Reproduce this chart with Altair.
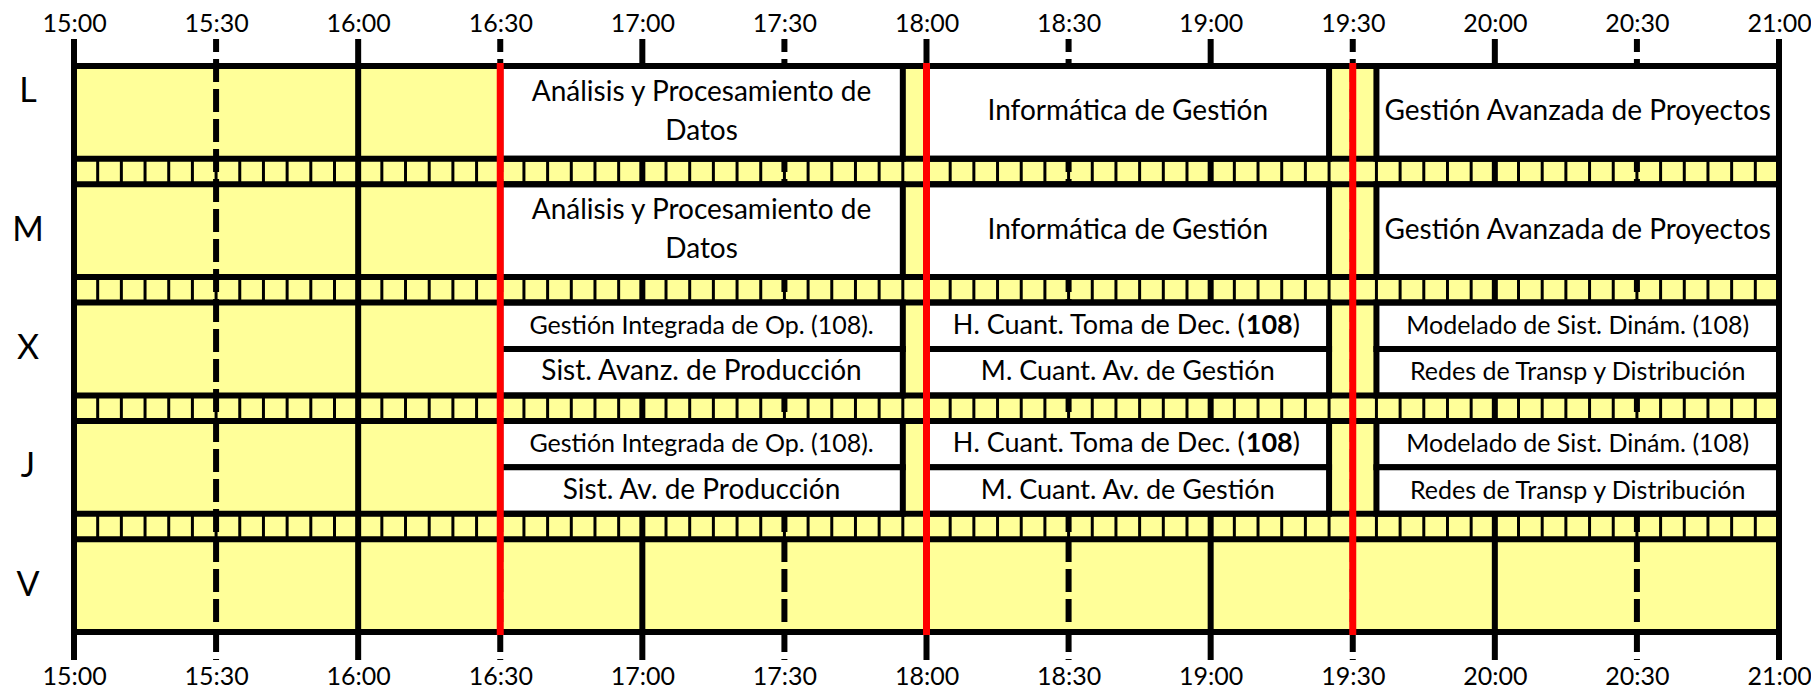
import altair as alt
import pandas as pd

# ---------------- data ----------------
days = ["L", "M", "X", "J", "V"]
tick_times = ["15:00", "15:30", "16:00", "16:30", "17:00", "17:30", "18:00",
              "18:30", "19:00", "19:30", "20:00", "20:30", "21:00"]
break_times = ["16:30", "18:00", "19:30"]

class_days = ["L", "L", "L", "M", "M", "M",
              "X", "X", "X", "X", "X", "X",
              "J", "J", "J", "J", "J", "J"]
class_slots = ["full", "full", "full", "full", "full", "full",
               "top", "bottom", "top", "bottom", "top", "bottom",
               "top", "bottom", "top", "bottom", "top", "bottom"]
class_starts = ["16:30", "18:00", "19:35", "16:30", "18:00", "19:35",
                "16:30", "16:30", "18:00", "18:00", "19:35", "19:35",
                "16:30", "16:30", "18:00", "18:00", "19:35", "19:35"]
class_ends = ["17:55", "19:25", "21:00", "17:55", "19:25", "21:00",
              "17:55", "17:55", "19:25", "19:25", "21:00", "21:00",
              "17:55", "17:55", "19:25", "19:25", "21:00", "21:00"]
class_names = ["Análisis y Procesamiento de\nDatos", "Informática de Gestión",
               "Gestión Avanzada de Proyectos",
               "Análisis y Procesamiento de\nDatos", "Informática de Gestión",
               "Gestión Avanzada de Proyectos",
               "Gestión Integrada de Op. (108).", "Sist. Avanz. de Producción",
               "H. Cuant. Toma de Dec. (108)", "M. Cuant. Av. de Gestión",
               "Modelado de Sist. Dinám. (108)", "Redes de Transp y Distribución",
               "Gestión Integrada de Op. (108).", "Sist. Av. de Producción",
               "H. Cuant. Toma de Dec. (108)", "M. Cuant. Av. de Gestión",
               "Modelado de Sist. Dinám. (108)", "Redes de Transp y Distribución"]
rich_name = "H. Cuant. Toma de Dec. (108)"
rich_parts = ["H. Cuant. Toma de Dec. (", "108", ")"]

# ---------------- styles / layout ----------------
FONT = "Lato"
YELLOW = "#ffff99"
RED = "#ff0000"
size_of = {
    "Análisis y Procesamiento de\nDatos": 28,
    "Informática de Gestión": 28,
    "Gestión Avanzada de Proyectos": 28,
    "Gestión Integrada de Op. (108).": 25,
    "Sist. Avanz. de Producción": 28,
    "Sist. Av. de Producción": 28,
    "H. Cuant. Toma de Dec. (108)": 27,
    "M. Cuant. Av. de Gestión": 27,
    "Modelado de Sist. Dinám. (108)": 25,
    "Redes de Transp y Distribución": 25,
}
LINE_H = 39.5

W, H = 1705, 621
T0 = 27.0      # top border (plot units = px from plot top)
D = 92.8       # day row height
B = 25.5       # film-strip band height
GRID_H = 5 * D + 4 * B


def mins(t):
    h, m = t.split(":")
    return (int(h) - 15) * 60 + int(m)


def row_top(i):
    return T0 + i * (D + B)


xs = alt.Scale(domain=[0, 360], nice=False, zero=False)
ys = alt.Scale(domain=[0, H], reverse=True, nice=False, zero=False)
label_expr = "floor(15 + datum.value / 60) + ':' + (datum.value % 60 == 0 ? '00' : '30')"
tick_vals = [mins(t) for t in tick_times]


def xaxis(orient, pad):
    return alt.Axis(values=tick_vals, orient=orient, domain=False, ticks=False,
                    tickSize=0, grid=False, labelFont=FONT, labelFontSize=25,
                    labelColor="black", labelPadding=pad, labelBaseline="alphabetic",
                    labelFlush=False, labelOverlap=False, labelAngle=0,
                    labelExpr=label_expr, title=None)


# background
bg = pd.DataFrame({"x": [0], "x2": [360], "y": [T0], "y2": [T0 + GRID_H]})
yellow = alt.Chart(bg).mark_rect(color=YELLOW).encode(
    x=alt.X("x:Q", scale=xs, axis=xaxis("top", 8)), x2="x2:Q",
    y=alt.Y("y:Q", scale=ys, axis=None), y2="y2:Q")

# film strips (5 minute cells)
strip_rows = []
for b in range(4):
    top = row_top(b) + D
    for m in range(5, 360, 5):
        strip_rows.append({"x": m, "y": top, "y2": top + B})
strips = alt.Chart(pd.DataFrame(strip_rows)).mark_rule(color="black", strokeWidth=3).encode(
    x=alt.X("x:Q", scale=xs, axis=None),
    y=alt.Y("y:Q", scale=ys, axis=None), y2="y2:Q")

# hour / half-hour grid lines
grid_df = pd.DataFrame({"t": tick_times})
grid_df["x"] = grid_df["t"].map(mins)
grid_df["y"] = 0.0
grid_df["y2"] = float(H)
solid = alt.Chart(grid_df[grid_df["x"] % 60 == 0]).mark_rule(
    color="black", strokeWidth=6).encode(
    x=alt.X("x:Q", scale=xs, axis=None),
    y=alt.Y("y:Q", scale=ys, axis=None), y2="y2:Q")
dashed = alt.Chart(grid_df[grid_df["x"] % 60 != 0]).mark_rule(
    color="black", strokeWidth=6, strokeDash=[23, 7], strokeDashOffset=10).encode(
    x=alt.X("x:Q", scale=xs, axis=None),
    y=alt.Y("y:Q", scale=ys, axis=None), y2="y2:Q")

# class boxes
cls = pd.DataFrame({"day": class_days, "slot": class_slots, "start": class_starts,
                    "end": class_ends, "name": class_names})
cls["x"] = cls["start"].map(mins)
cls["x2"] = cls["end"].map(mins)
cls["xc"] = (cls["x"] + cls["x2"]) / 2
tops, bots = [], []
for d, s in zip(cls["day"], cls["slot"]):
    t = row_top(days.index(d))
    if s == "full":
        tops.append(t); bots.append(t + D)
    elif s == "top":
        tops.append(t); bots.append(t + D / 2)
    else:
        tops.append(t + D / 2); bots.append(t + D)
cls["y"] = tops
cls["y2"] = bots
cls["yc"] = (cls["y"] + cls["y2"]) / 2
cls["fs"] = cls["name"].map(size_of)

boxes = alt.Chart(cls).mark_rect(fill="white", stroke="black", strokeWidth=6).encode(
    x=alt.X("x:Q", scale=xs, axis=None), x2="x2:Q",
    y=alt.Y("y:Q", scale=ys, axis=None), y2="y2:Q")

# horizontal row lines
hl = []
for i in range(5):
    hl.append({"y": row_top(i)})
    hl.append({"y": row_top(i) + D})
hdf = pd.DataFrame(hl)
hdf["x"] = 0
hdf["x2"] = 360
hlines = alt.Chart(hdf).mark_rule(color="black", strokeWidth=6).encode(
    x=alt.X("x:Q", scale=xs, axis=xaxis("bottom", 24)), x2="x2:Q",
    y=alt.Y("y:Q", scale=ys, axis=None))

# red break lines
rdf = pd.DataFrame({"t": break_times})
rdf["x"] = rdf["t"].map(mins)
rdf["y"] = T0 - 3
rdf["y2"] = T0 + GRID_H + 3
reds = alt.Chart(rdf).mark_rule(color=RED, strokeWidth=7).encode(
    x=alt.X("x:Q", scale=xs, axis=None),
    y=alt.Y("y:Q", scale=ys, axis=None), y2="y2:Q")

# class labels
multi = cls["name"].str.contains("\n")
plain = cls[(cls["name"] != rich_name) & ~multi]
texts = alt.Chart(plain).mark_text(font=FONT, baseline="middle", align="center",
                                   color="black").encode(
    x=alt.X("xc:Q", scale=xs, axis=None),
    y=alt.Y("yc:Q", scale=ys, axis=None),
    text="name:N", size=alt.Size("fs:Q", scale=None, legend=None))
texts2 = alt.Chart(cls[multi]).mark_text(font=FONT, baseline="middle", align="center",
                                         lineBreak="\n", lineHeight=LINE_H,
                                         dy=-LINE_H / 2, color="black").encode(
    x=alt.X("xc:Q", scale=xs, axis=None),
    y=alt.Y("yc:Q", scale=ys, axis=None),
    text="name:N", size=alt.Size("fs:Q", scale=None, legend=None))

rich = cls[cls["name"] == rich_name]
rs = size_of[rich_name]
rich_pre = alt.Chart(rich).transform_calculate(p="'" + rich_parts[0] + "'").mark_text(
    font=FONT, fontSize=rs, baseline="middle", align="right", dx=117, color="black").encode(
    x=alt.X("xc:Q", scale=xs, axis=None), y=alt.Y("yc:Q", scale=ys, axis=None), text="p:N")
rich_bold = alt.Chart(rich).transform_calculate(p="'" + rich_parts[1] + "'").mark_text(
    font=FONT, fontSize=rs, fontWeight="bold", baseline="middle", align="left", dx=118,
    color="black").encode(
    x=alt.X("xc:Q", scale=xs, axis=None), y=alt.Y("yc:Q", scale=ys, axis=None), text="p:N")
rich_post = alt.Chart(rich).transform_calculate(p="'" + rich_parts[2] + "'").mark_text(
    font=FONT, fontSize=rs, baseline="middle", align="left", dx=165, color="black").encode(
    x=alt.X("xc:Q", scale=xs, axis=None), y=alt.Y("yc:Q", scale=ys, axis=None), text="p:N")

# day labels
ddf = pd.DataFrame({"day": days})
ddf["y"] = [row_top(i) + D / 2 for i in range(5)]
ddf.loc[ddf["day"] == "L", "y"] -= 20
ddf["x"] = 0
day_labels = alt.Chart(ddf).mark_text(font=FONT, fontSize=34, baseline="middle",
                                      align="center", dx=-46, color="black").encode(
    x=alt.X("x:Q", scale=xs, axis=None),
    y=alt.Y("y:Q", scale=ys, axis=None), text="day:N")

chart = alt.layer(
    yellow, strips, solid, dashed, boxes, hlines, reds, texts, texts2,
    rich_pre, rich_bold, rich_post, day_labels
).resolve_axis(x="independent").properties(
    width=W, height=H,
    autosize=alt.AutoSizeParams(type="none"),
    padding={"left": 66, "top": 31, "right": 32, "bottom": 29},
).configure_view(stroke=None)

chart.save("out.html", embed_options={"renderer": "svg", "actions": False})
